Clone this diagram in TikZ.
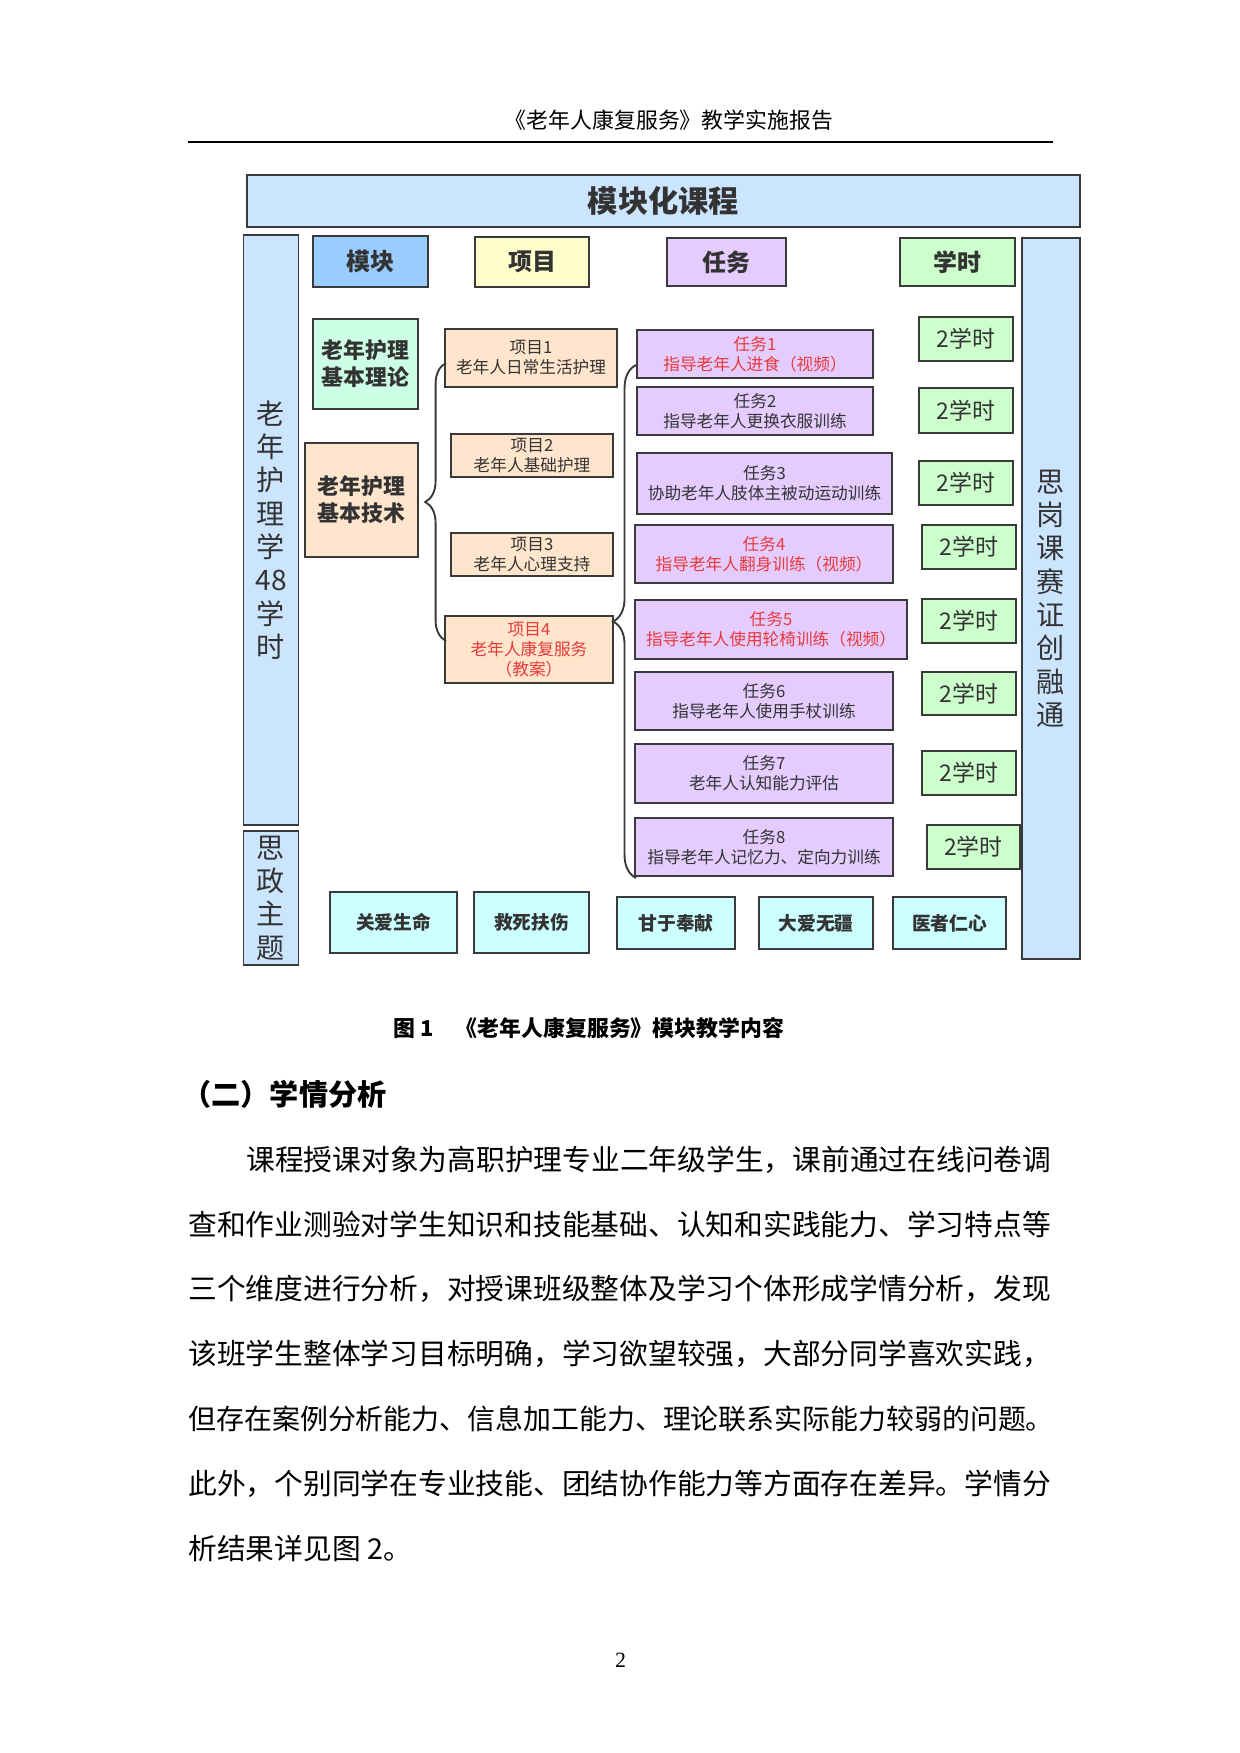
\documentclass[tikz,border=0pt]{standalone}
\usepackage{fontspec}
\setmainfont{Noto Sans CJK SC}
\newfontfamily\serifnum{Liberation Serif}
\usetikzlibrary{decorations.pathreplacing}
\XeTeXlinebreaklocale "zh"
\XeTeXlinebreakskip=0pt plus 1pt minus 1pt
\newdimen\px \px=0.48pt
\newcommand{\fsz}[2]{\fontsize{#1}{#2}\selectfont}
\definecolor{edge}{HTML}{3A3A3A}
\definecolor{ink}{HTML}{333333}
\definecolor{warn}{HTML}{E8393B}
\definecolor{skyband}{HTML}{CCE5FF}
\definecolor{modhead}{HTML}{99CCFF}
\definecolor{projhead}{HTML}{FFFFCC}
\definecolor{taskfill}{HTML}{E5CCFF}
\definecolor{hourfill}{HTML}{CCFFCC}
\definecolor{theoryfill}{HTML}{CCFFE6}
\definecolor{peach}{HTML}{FFE5CC}
\definecolor{civicfill}{HTML}{CCFFFF}

\begin{document}
\begin{tikzpicture}[x=0.48pt, y=-0.48pt,
	every node/.style={inner sep=0pt, text=ink},
	wh/.style 2 args={minimum width=#1\px, minimum height=#2\px},
	box/.style={draw=edge, line width=0.9pt, align=center},
	headcell/.style={box, font=\bfseries\fsz{11.5pt}{13pt}},
	band/.style={box, fill=skyband, font=\fsz{13.5pt}{16pt}},
	modbox/.style={box, font=\bfseries\fsz{10.5pt}{13pt}},
	projbox/.style={box, fill=peach, font=\fsz{8pt}{9.6pt}},
	taskbox/.style={box, fill=taskfill, font=\fsz{8pt}{9.6pt}},
	hourbox/.style={box, fill=hourfill, font=\fsz{11pt}{13pt}},
	civicbox/.style={box, fill=civicfill, font=\bfseries\fsz{9pt}{11pt}},
	curly/.style={draw=edge, line width=0.9pt, decorate, decoration={brace, amplitude=#1}},
	bodyline/.style={anchor=west, text=black, font=\fsz{13.8pt}{16pt}}]
	\fill[white] (0,0) rectangle (1240,1753);
	\useasboundingbox (0,0) rectangle (1240,1753);
	\node[text=black, font=\fsz{10.5pt}{12pt}] (runhead) at (669,120) {《老年人康复服务》教学实施报告};
	\draw[line width=0.75pt] (188,142) -- (1053,142);
	\begin{scope}
		\node[box, fill=skyband, wh={833}{51.5}, font=\bfseries\fsz{14.5pt}{16pt}] (title) at (663.5,201) {模块化课程};
		\node[headcell, fill=modhead, wh={115}{51}] (hmod) at (370.5,261.5) {模块};
		\node[headcell, fill=projhead, wh={114}{50}] (hproj) at (532,262) {项目};
		\node[headcell, fill=taskfill, wh={119}{48}] (htask) at (726.5,262) {任务};
		\node[headcell, fill=hourfill, wh={115}{48}] (hhour) at (957.5,262) {学时};
		\node[band, wh={55}{590}] (course) at (271,530) {老\\年\\护\\理\\学\\48\\学\\时};
		\node[band, wh={55}{134}] (civic) at (271,898) {思\\政\\主\\题};
		\node[band, wh={58}{721}] (merge) at (1051,598.5) {思\\岗\\课\\赛\\证\\创\\融\\通};
		\node[modbox, fill=theoryfill, wh={105}{90}] (theory) at (365.5,364) {老年护理\\基本理论};
		\node[modbox, fill=peach, wh={113}{114}] (skill) at (361.5,500) {老年护理\\基本技术};
		\node[projbox, wh={172}{58}] (p1) at (531,358) {项目1\\老年人日常生活护理};
		\node[projbox, wh={162}{43}] (p2) at (532,455.5) {项目2\\老年人基础护理};
		\node[projbox, wh={162}{43}] (p3) at (532,554.5) {项目3\\老年人心理支持};
		\node[projbox, wh={168}{67}, text=warn] (p4) at (529,649.5) {项目4\\老年人康复服务\\（教案）};
		\node[taskbox, wh={236}{48}, text=warn] (t1) at (755,354) {任务1\\指导老年人进食（视频）};
		\node[taskbox, wh={236}{48}] (t2) at (755,411) {任务2\\指导老年人更换衣服训练};
		\node[taskbox, wh={255}{61}] (t3) at (764.5,483.5) {任务3\\协助老年人肢体主被动运动训练};
		\node[taskbox, wh={258}{58}, text=warn] (t4) at (764,554) {任务4\\指导老年人翻身训练（视频）};
		\node[taskbox, wh={272}{59}, text=warn] (t5) at (771,629.5) {任务5\\指导老年人使用轮椅训练（视频）};
		\node[taskbox, wh={258}{58}] (t6) at (764,701) {任务6\\指导老年人使用手杖训练};
		\node[taskbox, wh={258}{59}] (t7) at (764,773.5) {任务7\\老年人认知能力评估};
		\node[taskbox, wh={258}{58}] (t8) at (764,847) {任务8\\指导老年人记忆力、定向力训练};
		\node[hourbox, wh={94}{44}] (h1) at (966,339) {2学时};
		\node[hourbox, wh={94}{45}] (h2) at (966,410.5) {2学时};
		\node[hourbox, wh={94}{44}] (h3) at (966,483) {2学时};
		\node[hourbox, wh={94}{44}] (h4) at (969,547) {2学时};
		\node[hourbox, wh={94}{44}] (h5) at (969,621) {2学时};
		\node[hourbox, wh={94}{43}] (h6) at (969,693.5) {2学时};
		\node[hourbox, wh={94}{44}] (h7) at (969,773) {2学时};
		\node[hourbox, wh={93}{44}] (h8) at (973.5,847) {2学时};
		\node[civicbox, wh={127}{61}] (c1) at (393.5,922.5) {关爱生命};
		\node[civicbox, wh={115}{61}] (c2) at (531.5,922.5) {救死扶伤};
		\node[civicbox, wh={118}{52}] (c3) at (676,923) {甘于奉献};
		\node[civicbox, wh={114}{52}] (c4) at (816,923) {大爱无疆};
		\node[civicbox, wh={113}{52}] (c5) at (949.5,923) {医者仁心};
		\coordinate (b1top) at (446,363);
		\coordinate (b1bot) at (446,641);
		\coordinate (b2top) at (636,365);
		\coordinate (b2bot) at (636,878);
		\draw[curly=10pt] (b1bot) -- (b1top);
		\draw[curly=11pt] (b2bot) -- (b2top);
	\end{scope}
	\node[text=black, font=\bfseries\fsz{10.5pt}{12pt}] (caption) at (589,1028) {图 1\quad《老年人康复服务》模块教学内容};
	\node[anchor=west, text=black, font=\bfseries\fsz{14pt}{16pt}] (sect) at (182,1094) {（二）学情分析};
	\node[bodyline] (ln1) at (246,1159.5) {\hbox to 387.4pt{课程授课对象为高职护理专业二年级学生，课前通过在线问卷调}};
	\node[bodyline] (ln2) at (188,1224) {\hbox to 415.2pt{查和作业测验对学生知识和技能基础、认知和实践能力、学习特点等}};
	\node[bodyline] (ln3) at (188,1289) {\hbox to 415.2pt{三个维度进行分析，对授课班级整体及学习个体形成学情分析，发现}};
	\node[bodyline] (ln4) at (188,1354) {\hbox to 415.2pt{该班学生整体学习目标明确，学习欲望较强，大部分同学喜欢实践，}};
	\node[bodyline, font=\fsz{13.4pt}{16pt}] (ln5) at (188,1419) {\hbox to 415.2pt{但存在案例分析能力、信息加工能力、理论联系实际能力较弱的问题。}};
	\node[bodyline] (ln6) at (188,1484) {\hbox to 415.2pt{此外，个别同学在专业技能、团结协作能力等方面存在差异。学情分}};
	\node[bodyline] (ln7) at (188,1548.6) {析结果详见图 2。};
	\node[text=black, font=\serifnum\fsz{10.5pt}{12pt}] (pgno) at (620.5,1660) {2};
\end{tikzpicture}
\end{document}
